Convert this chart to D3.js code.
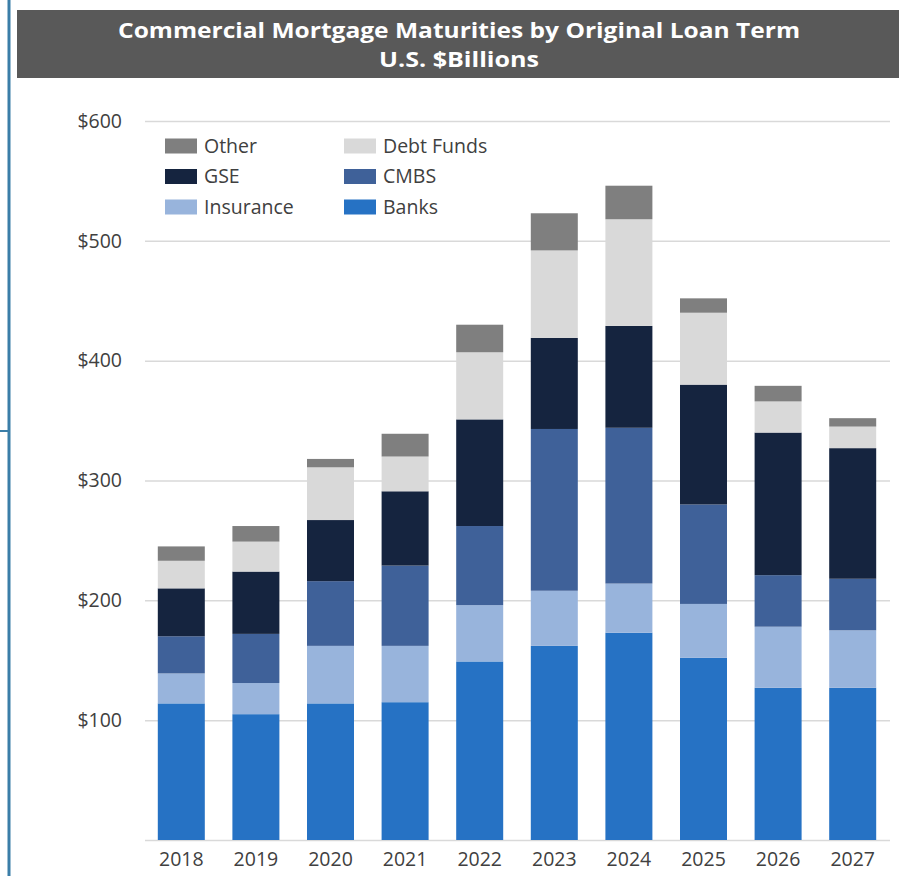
<!DOCTYPE html>
<html>
<head>
<meta charset="utf-8">
<script src="https://cdn.jsdelivr.net/npm/d3@7"></script>
<style>
  html, body { margin: 0; padding: 0; background: #ffffff; }
  svg { display: block; }
  text { font-family: "Open Sans", "Noto Sans", sans-serif; }
</style>
</head>
<body>
<svg id="chart" width="899" height="876"></svg>
<script>
// Maturity years on the x axis
const years = ["2018", "2019", "2020", "2021", "2022", "2023", "2024", "2025", "2026", "2027"];

// Maturities by lender type, U.S. $ billions (stacked bottom to top)
const banks     = [114, 105, 114, 115, 149, 162, 173, 152, 127, 127];
const insurance = [ 25,  26,  48,  47,  47,  46,  41,  45,  51,  48];
const cmbs      = [ 31,  41,  54,  67,  66, 135, 130,  83,  43,  43];
const gse       = [ 40,  52,  51,  62,  89,  76,  85, 100, 119, 109];
const debtFunds = [ 23,  25,  44,  29,  56,  73,  89,  60,  26,  18];
const other     = [ 12,  13,   7,  19,  23,  31,  28,  12,  13,   7];

const seriesNames = ["Banks", "Insurance", "CMBS", "GSE", "Debt Funds", "Other"];
const seriesValues = [banks, insurance, cmbs, gse, debtFunds, other];
const seriesColors = ["#2672c4", "#98b4dc", "#3f6199", "#15243f", "#d9d9d9", "#7f7f7f"];

// Legend laid out in two columns, three rows
const legendOrder = ["Other", "Debt Funds", "GSE", "CMBS", "Insurance", "Banks"];

// Y axis ticks
const yTicks = [100, 200, 300, 400, 500, 600];

// Title lines
const titleLines = ["Commercial Mortgage Maturities by Original Loan Term", "U.S. $Billions"];

const svg = d3.select("#chart");
const W = 899, H = 876;

// Rows for the stack layout
const rows = years.map((yr, i) => {
  const r = { year: yr };
  seriesNames.forEach((s, k) => { r[s] = seriesValues[k][i]; });
  return r;
});

const x = d3.scaleBand()
  .domain(years)
  .range([144, 890])
  .paddingInner(0.37)
  .paddingOuter(0.185);

const y = d3.scaleLinear()
  .domain([0, 600])
  .range([840, 121]);

const color = d3.scaleOrdinal().domain(seriesNames).range(seriesColors);

// Left accent rule
svg.append("line")
  .attr("x1", 9).attr("x2", 9).attr("y1", 0).attr("y2", H)
  .attr("stroke", "#3b7ea8").attr("stroke-width", 3);
svg.append("line")
  .attr("x1", 0).attr("x2", 9).attr("y1", 431).attr("y2", 431)
  .attr("stroke", "#3b7ea8").attr("stroke-width", 2);

// Title banner: two separate lines, each stretched to the banner's lettering width
svg.append("rect")
  .attr("x", 17).attr("y", 10).attr("width", W - 17).attr("height", 68)
  .attr("fill", "#595959");
const titleWidths = [682, 160];
const titleBaselines = [38, 66.5];
titleLines.forEach((t, i) => {
  svg.append("text")
    .attr("x", 459).attr("y", titleBaselines[i])
    .attr("text-anchor", "middle")
    .attr("fill", "#ffffff").attr("font-weight", 700).attr("font-size", 20.5)
    .attr("textLength", titleWidths[i])
    .attr("lengthAdjust", "spacingAndGlyphs")
    .text(t);
});

// Gridlines and y axis labels
const yAxis = d3.axisLeft(y)
  .tickValues([0].concat(yTicks))
  .tickSize(-(890 - 145))
  .tickPadding(23)
  .tickFormat(d => d === 0 ? "" : "$" + d);
const gy = svg.append("g")
  .attr("transform", "translate(145,0)")
  .call(yAxis);
gy.select(".domain").remove();
gy.selectAll(".tick line").attr("stroke", "#d9d9d9").attr("stroke-width", 1.5);
gy.selectAll(".tick text")
  .attr("fill", "#404040").attr("font-size", 19.5)
  .attr("font-family", "'Open Sans', sans-serif");

// Stacked bars
const stack = d3.stack().keys(seriesNames);
const layers = stack(rows);

svg.append("g")
  .selectAll("g")
  .data(layers)
  .join("g")
  .attr("fill", d => color(d.key))
  .selectAll("rect")
  .data(d => d)
  .join("rect")
  .attr("x", d => x(d.data.year))
  .attr("width", x.bandwidth())
  .attr("y", d => y(d[1]))
  .attr("height", d => y(d[0]) - y(d[1]));

// X axis labels
const xAxis = d3.axisBottom(x).tickSize(0).tickPadding(12);
const gx = svg.append("g")
  .attr("transform", "translate(0,840)")
  .call(xAxis);
gx.select(".domain").remove();
gx.selectAll(".tick text")
  .attr("fill", "#404040").attr("font-size", 19.5)
  .attr("font-family", "'Open Sans', sans-serif");

// Legend
const legend = svg.append("g");
legendOrder.forEach((name, i) => {
  const col = i % 2, row = Math.floor(i / 2);
  const lx = col === 0 ? 165 : 344;
  const ly = 146 + row * 30.5;
  legend.append("rect")
    .attr("x", lx).attr("y", ly - 7.5)
    .attr("width", 32).attr("height", 15)
    .attr("fill", color(name));
  legend.append("text")
    .attr("x", lx + 39).attr("y", ly)
    .attr("dy", "0.35em")
    .attr("fill", "#404040").attr("font-size", 19.5)
    .text(name);
});
</script>
</body>
</html>
